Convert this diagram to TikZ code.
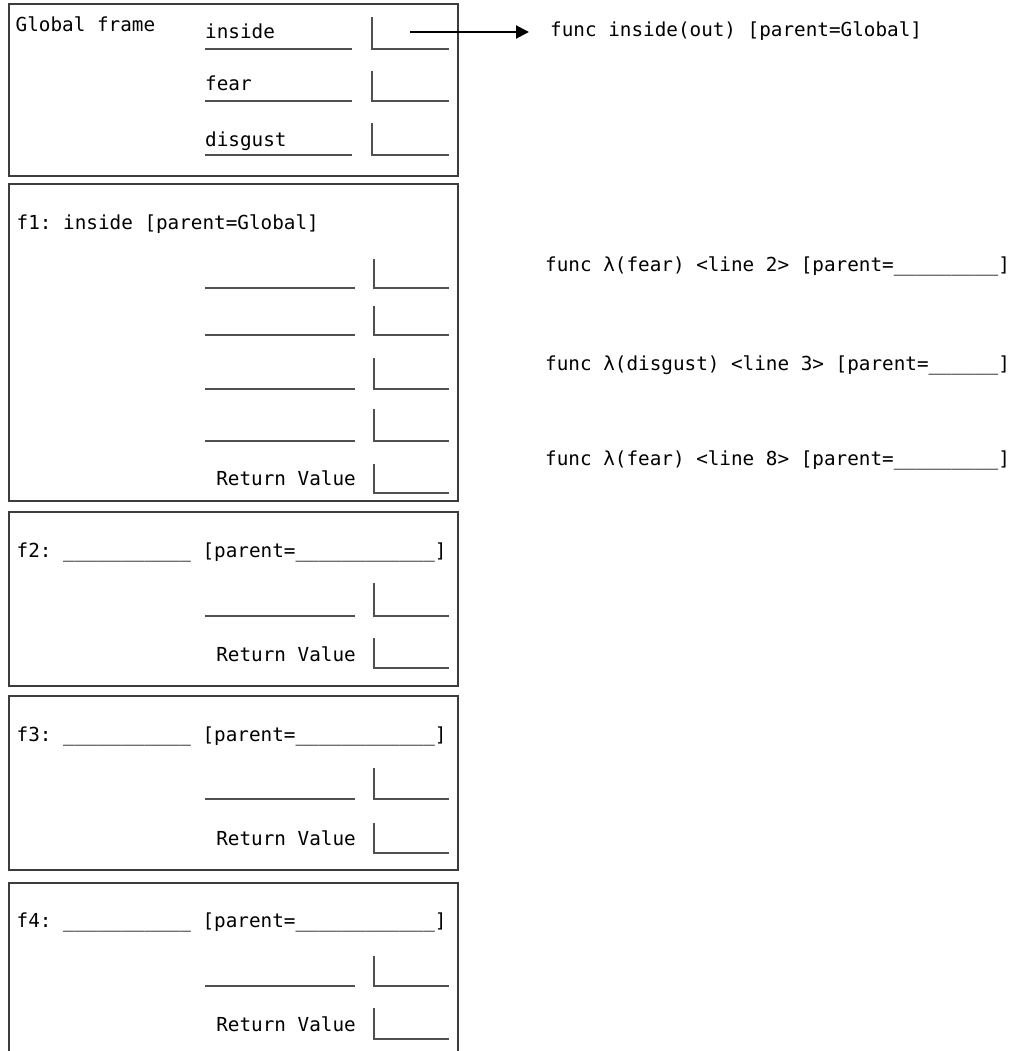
\documentclass[tikz,border=0pt]{standalone}
\usepackage{fontspec}
\setmonofont{DejaVu Sans Mono}
\usetikzlibrary{arrows.meta}
\definecolor{framecol}{RGB}{60,60,60}
\definecolor{linecol}{RGB}{80,80,80}
\newcommand\mfont{\fontsize{19.3}{22}\selectfont\ttfamily}
\tikzset{
  frm/.style={draw=framecol, line width=1.3pt},
  slot/.style={draw=linecol, line width=1.2pt},
  lbl/.style={anchor=base west, inner sep=0pt, font=\mfont},
  rlbl/.style={anchor=base east, inner sep=0pt, font=\mfont},
  ptr/.style={draw=black, line width=2pt, -{Triangle[length=13pt,width=13pt]}},
}
\newcommand\nameline[1]{\draw[slot] (205,#1) -- (355,#1);}
\newcommand\valbox[3]{\draw[slot] (#1,#2) -- (#1,#3) -- (449,#3);}
\newcommand\ftitle[3]{\node[lbl] (#1) at (16.5,#2) {#3: \_\_\_\_\_\_\_\_\_\_\_ [parent=\_\_\_\_\_\_\_\_\_\_\_\_]};}
\begin{document}
\begin{tikzpicture}[x=1pt,y=-1pt]
\useasboundingbox (0,0) rectangle (1021,1051);

% ---------------- Global frame ----------------
\draw[frm] (9,4) rectangle (458,176);
\node[lbl] (gtitle) at (15.5,32) {Global frame};
\node[lbl] (ginside) at (205,39) {inside};
\node[lbl] (gfear) at (205,91) {fear};
\node[lbl] (gdisgust) at (205,147) {disgust};
\draw[slot] (205,49) -- (352,49);
\draw[slot] (205,101) -- (352,101);
\draw[slot] (205,155) -- (352,155);
\valbox{372}{17}{49}
\valbox{372}{71}{101}
\valbox{372}{123}{155}
\coordinate (src) at (410,32);

% function object
\node[lbl, inner xsep=21pt] (funcinside) at (529,37) {func inside(out) [parent=Global]};
\draw[ptr] (src) -- (src -| funcinside.west);

% lambdas
\node[lbl] (lam1) at (545,271) {func λ(fear) <line 2> [parent=\_\_\_\_\_\_\_\_\_]};
\node[lbl] (lam2) at (545,370) {func λ(disgust) <line 3> [parent=\_\_\_\_\_\_]};
\node[lbl] (lam3) at (545,465) {func λ(fear) <line 8> [parent=\_\_\_\_\_\_\_\_\_]};

% ---------------- f1 ----------------
\draw[frm] (9,184) rectangle (458,501);
\node[lbl] (f1title) at (16.5,229) {f1: inside [parent=Global]};
\nameline{288}\valbox{374}{259}{288}
\nameline{335}\valbox{374}{306}{335}
\nameline{389}\valbox{374}{358}{389}
\nameline{441}\valbox{374}{409}{441}
\node[rlbl] (f1rv) at (356,485) {Return Value};
\valbox{374}{464}{493}

% ---------------- f2 ----------------
\draw[frm] (9,512) rectangle (458,686);
\ftitle{f2title}{557}{f2}
\nameline{616}\valbox{374}{583}{616}
\node[rlbl] (f2rv) at (356,661) {Return Value};
\valbox{374}{638}{668}

% ---------------- f3 ----------------
\draw[frm] (9,696) rectangle (458,870);
\ftitle{f3title}{741}{f3}
\nameline{799}\valbox{374}{768}{799}
\node[rlbl] (f3rv) at (356,845) {Return Value};
\valbox{374}{823}{853}

% ---------------- f4 ----------------
\draw[frm] (9,1053) -- (9,883) -- (458,883) -- (458,1053);
\ftitle{f4title}{927}{f4}
\nameline{986}\valbox{374}{956}{986}
\node[rlbl] (f4rv) at (356,1031) {Return Value};
\valbox{374}{1008}{1039}
\end{tikzpicture}
\end{document}
